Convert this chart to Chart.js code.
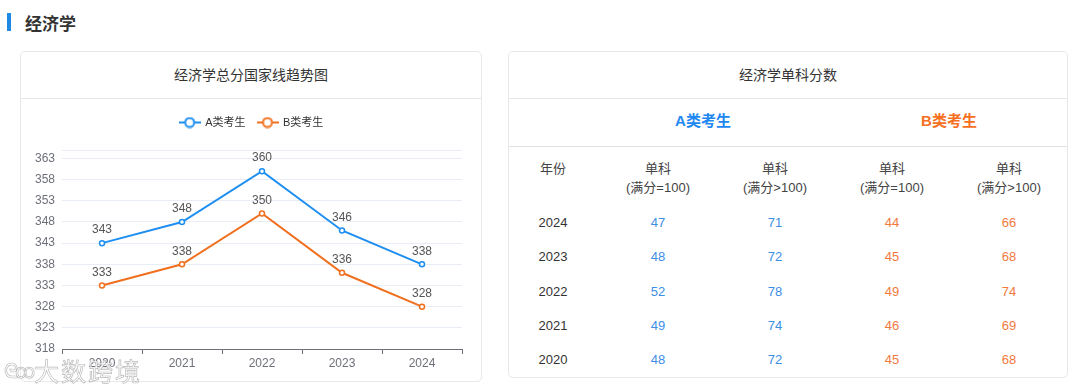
<!DOCTYPE html>
<html>
<head>
<meta charset="utf-8">
<script src="https://cdn.jsdelivr.net/npm/chart.js@4/dist/chart.umd.min.js"></script>
<style>
  body { margin: 0; background: #fff; width: 1080px; height: 388px; position: relative; overflow: hidden;
         font-family: Arial, "Liberation Sans", "Noto Sans CJK SC", sans-serif; color: #333; }
  .bar { position: absolute; left: 7px; top: 13px; width: 4px; height: 18px; background: #1e88e5; }
  .title { position: absolute; left: 25px; top: 10px; font-size: 17px; font-weight: bold; color: #333; }
  .card { position: absolute; border: 1px solid #e8e8e8; border-radius: 5px; background: #fff; box-sizing: border-box; }
  .card-head { position: absolute; left: 0; right: 0; top: 0; height: 46px; line-height: 46px; text-align: center;
               font-size: 14px; color: #333; border-bottom: 1px solid #e6e6e6; }
  #left { left: 20px; top: 51px; width: 462px; height: 331px; }
  #right { left: 508px; top: 51px; width: 560px; height: 327px; }
  #chartBox { position: absolute; left: 0; top: 46px; width: 460px; height: 283px; }
  .cell { position: absolute; text-align: center; font-size: 13px; white-space: nowrap; }
  .grp { position: absolute; top: 57px; font-size: 15px; font-weight: bold; transform: translateX(-50%); }
  .sep { position: absolute; left: 0; right: 0; top: 94px; border-top: 1px solid #e2e2e2; }
  .wm { position: absolute; top: 352px; color: rgba(255,255,255,0.9); white-space: nowrap;
        -webkit-text-stroke: 0.7px rgba(130,130,130,0.55); font-family: "Noto Sans CJK SC", sans-serif; }
  #wmIcon { left: 4px; font-size: 20px; top: 355px; letter-spacing: -3px; }
  #wmText { left: 34px; font-size: 25px; letter-spacing: 2px; }
</style>
</head>
<body>
<div class="bar"></div>
<div class="title">经济学</div>

<div class="card" id="left">
  <div class="card-head">经济学总分国家线趋势图</div>
  <div id="chartBox"><canvas id="lineChart" width="460" height="283"></canvas></div>
</div>

<div class="card" id="right">
  <div class="card-head">经济学单科分数</div>
  <div id="table"></div>
</div>

<div class="wm" id="wmIcon">ᘓꝏ</div>
<div class="wm" id="wmText">大数跨境</div>

<script>
const years = ["2020", "2021", "2022", "2023", "2024"];
const scoreA = [343, 348, 360, 346, 338];
const scoreB = [333, 338, 350, 336, 328];
const yTicks = [318, 323, 328, 333, 338, 343, 348, 353, 358, 363];

const tableYears = ["2024", "2023", "2022", "2021", "2020"];
const aFull100 = [47, 48, 52, 49, 48];
const aOver100 = [71, 72, 78, 74, 72];
const bFull100 = [44, 45, 49, 46, 45];
const bOver100 = [66, 68, 74, 69, 68];

const blue = "#1e8ff0";
const orange = "#f07020";

// table
const table = document.getElementById("table");
const colX = [44, 149, 266, 383, 500];
function cell(text, x, y, color) {
  const d = document.createElement("div");
  d.className = "cell";
  d.style.left = (x - 60) + "px";
  d.style.width = "120px";
  d.style.top = y + "px";
  d.style.color = color;
  d.innerHTML = text;
  table.appendChild(d);
}
const ga = document.createElement("div");
ga.className = "grp"; ga.style.left = "194px"; ga.style.color = "#1e88f0"; ga.textContent = "A类考生";
table.appendChild(ga);
const gb = document.createElement("div");
gb.className = "grp"; gb.style.left = "440px"; gb.style.color = "#f5701f"; gb.textContent = "B类考生";
table.appendChild(gb);
const sep = document.createElement("div");
sep.className = "sep"; table.appendChild(sep);

cell("年份", colX[0], 106, "#444");
for (let i = 1; i < 5; i++) {
  cell("单科<br>(满分" + (i % 2 ? "=" : "&gt;") + "100)", colX[i], 106, "#444");
}
const rowY = [163, 197, 232, 266, 300];
tableYears.forEach((y, r) => {
  cell(y, colX[0], rowY[r], "#333");
  cell(aFull100[r], colX[1], rowY[r], "#3d8ee6");
  cell(aOver100[r], colX[2], rowY[r], "#3d8ee6");
  cell(bFull100[r], colX[3], rowY[r], "#f07a3e");
  cell(bOver100[r], colX[4], rowY[r], "#f07a3e");
});

// legend icon: line with hollow circle
function legendIcon(color) {
  const c = document.createElement("canvas");
  c.width = 22; c.height = 12;
  const g = c.getContext("2d");
  g.strokeStyle = color; g.lineWidth = 2;
  g.beginPath(); g.moveTo(0, 6); g.lineTo(22, 6); g.stroke();
  g.fillStyle = "#fff";
  g.beginPath(); g.arc(11, 6, 4.5, 0, Math.PI * 2); g.fill(); g.stroke();
  return c;
}

// extra room under the legend, and centre it on the whole card
const legendGap = {
  id: "legendGap",
  beforeInit(chart) {
    const fit = chart.legend.fit;
    chart.legend.fit = function () {
      fit.call(this);
      this.height += 12;
    };
  },
  afterLayout(chart) {
    chart.legend.left += 10;
    chart.legend.right += 10;
  }
};

const pointLabels = {
  id: "pointLabels",
  afterDatasetsDraw(chart) {
    const ctx = chart.ctx;
    ctx.save();
    ctx.font = "12px Arial, 'Liberation Sans', sans-serif";
    ctx.fillStyle = "#555";
    ctx.textAlign = "center";
    ctx.textBaseline = "bottom";
    chart.data.datasets.forEach((ds, i) => {
      chart.getDatasetMeta(i).data.forEach((pt, j) => {
        ctx.fillText(ds.data[j], pt.x, pt.y - 7);
      });
    });
    ctx.restore();
  }
};

new Chart(document.getElementById("lineChart").getContext("2d"), {
  type: "line",
  data: {
    labels: years,
    datasets: [{
      label: "A类考生",
      data: scoreA,
      borderColor: blue,
      backgroundColor: "#fff",
      pointBorderColor: blue,
      pointBackgroundColor: "#fff",
      pointStyle: "circle",
      pointRadius: 2.5,
      pointBorderWidth: 1.5,
      borderWidth: 2,
      tension: 0
    }, {
      label: "B类考生",
      data: scoreB,
      borderColor: orange,
      backgroundColor: "#fff",
      pointBorderColor: orange,
      pointBackgroundColor: "#fff",
      pointStyle: "circle",
      pointRadius: 2.5,
      pointBorderWidth: 1.5,
      borderWidth: 2,
      tension: 0
    }]
  },
  options: {
    responsive: false,
    animation: false,
    layout: { padding: { left: 0, right: 19, top: 7, bottom: 0 } },
    plugins: {
      tooltip: { enabled: false },
      legend: {
        labels: {
          usePointStyle: true,
          pointStyleWidth: 20,
          boxHeight: 12,
          padding: 12,
          color: "#333",
          font: { size: 11, family: "Arial, 'Noto Sans CJK SC', sans-serif" },
          generateLabels(chart) {
            return chart.data.datasets.map((ds, i) => ({
              text: ds.label,
              pointStyle: legendIcon(ds.borderColor),
              fillStyle: ds.borderColor,
              strokeStyle: ds.borderColor,
              lineWidth: 0,
              datasetIndex: i,
              fontColor: "#333"
            }));
          }
        }
      }
    },
    scales: {
      x: {
        offset: true,
        grid: { offset: true, drawOnChartArea: false, drawTicks: true, tickLength: 5, color: "#6e7079" },
        border: { color: "#6e7079" },
        ticks: { color: "#6e7079", font: { size: 12 }, padding: 2 },
        afterFit(scale) { scale.height = 32; }
      },
      y: {
        min: 318,
        max: 365,
        afterBuildTicks(scale) {
          scale.ticks = yTicks.concat([365]).map(v => ({ value: v }));
        },
        grid: { color: "#e8edf5", drawTicks: false },
        border: { display: false },
        ticks: {
          color: "#6e7079",
          font: { size: 12 },
          padding: 7,
          callback: v => (yTicks.includes(v) ? v : "")
        },
        afterFit(scale) { scale.width = 41; }
      }
    }
  },
  plugins: [legendGap, pointLabels]
});
</script>
</body>
</html>
